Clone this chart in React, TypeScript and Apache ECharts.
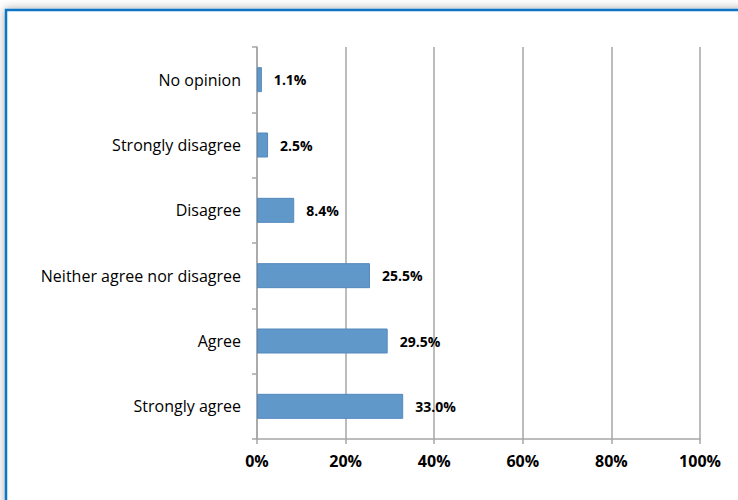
import React, { useEffect, useRef } from "react";
import * as echarts from "echarts";

const categories = [
  "Strongly agree",
  "Agree",
  "Neither agree nor disagree",
  "Disagree",
  "Strongly disagree",
  "No opinion",
];
const values = [33.0, 29.5, 25.5, 8.4, 2.5, 1.1];
const xTicks = [0, 20, 40, 60, 80, 100];

export default function App() {
  const ref = useRef<HTMLDivElement>(null);
  useEffect(() => {
    document.body.style.margin = "0";
    const chart = echarts.init(ref.current!, null, { renderer: "svg" });
    chart.setOption({
      animation: false,
      backgroundColor: "#ffffff",
      graphic: [
        {
          type: "rect",
          z: -10,
          silent: true,
          shape: { x: 6, y: 10, width: 800, height: 600 },
          style: {
            fill: "#ffffff",
            stroke: "#0a74c4",
            lineWidth: 2.5,
            shadowBlur: 10,
            shadowColor: "rgba(0,0,0,0.35)",
            shadowOffsetX: 0,
            shadowOffsetY: 0,
          },
        },
      ],
      grid: { left: 257, right: 38, top: 47, bottom: 61, containLabel: false },
      xAxis: {
        type: "value",
        min: xTicks[0],
        max: xTicks[xTicks.length - 1],
        interval: 20,
        axisLine: { show: true, lineStyle: { color: "#a6a6a6", width: 1.5 } },
        axisTick: { show: true, length: 5, lineStyle: { color: "#a6a6a6", width: 1.5 } },
        splitLine: { show: true, lineStyle: { color: "#a6a6a6", width: 1.5 } },
        axisLabel: {
          formatter: "{value}%",
          color: "#000",
          fontFamily: "Open Sans",
          fontWeight: "bold",
          fontSize: 16,
          margin: 14,
        },
      },
      yAxis: {
        type: "category",
        data: categories,
        axisLine: { show: true, lineStyle: { color: "#a6a6a6", width: 1.5 } },
        axisTick: { show: true, length: 5, lineStyle: { color: "#a6a6a6", width: 1.5 } },
        axisLabel: {
          color: "#000",
          fontFamily: "Open Sans",
          fontSize: 16,
          margin: 16,
        },
      },
      series: [
        {
          type: "bar",
          data: values,
          barWidth: 25,
          itemStyle: { color: "#6198ca", borderColor: "#5589bd", borderWidth: 1 },
          label: {
            show: true,
            position: "right",
            distance: 12,
            formatter: (p: any) => p.value.toFixed(1) + "%",
            color: "#000",
            fontFamily: "Open Sans",
            fontWeight: "bold",
            fontSize: 14,
          },
        },
      ],
    });
    return () => chart.dispose();
  }, []);
  return <div ref={ref} style={{ width: 738, height: 500 }} />;
}
